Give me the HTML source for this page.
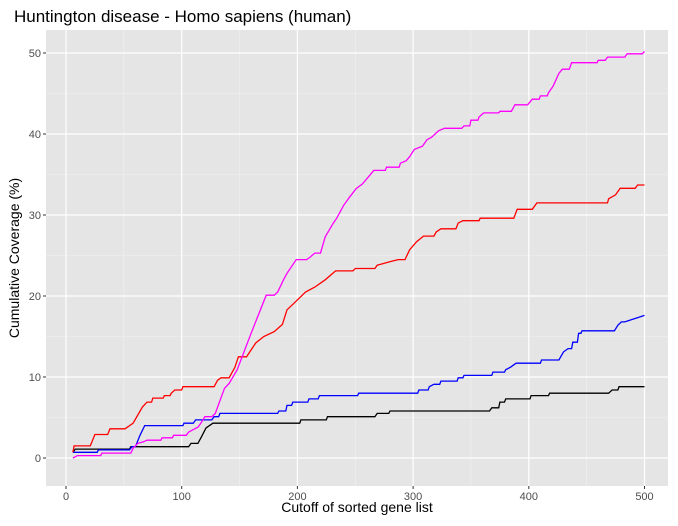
<!DOCTYPE html>
<html><head><meta charset="utf-8"><style>
body{margin:0;background:#fff;font-family:"Liberation Sans",sans-serif;}
svg text{font-family:"Liberation Sans",sans-serif;}
</style></head><body>
<svg id="chart" width="678" height="521">
<text x="14" y="22" font-size="17" fill="#000">Huntington disease - Homo sapiens (human)</text>
<rect x="46" y="30" width="622" height="456" fill="#e5e5e5"/>
<g id="grid"></g><g id="axes"></g><g id="series"></g>
<text x="357" y="512" font-size="14" text-anchor="middle" fill="#000">Cutoff of sorted gene list</text>
<text transform="translate(19,258) rotate(-90)" font-size="14" text-anchor="middle" fill="#000">Cumulative Coverage (%)</text>
</svg>
<script>
const xTicks=[0,100,200,300,400,500];
const yTicks=[0,10,20,30,40,50];
const blackX=[6,8,55,56,106,108,114,117,121,127,202,203,225,226,267,269,279,280,366,368,374,375,379,380,401,402,417,418,469,472,477,478,500];
const blackY=[0.7,1.1,1.1,1.4,1.4,1.8,1.8,2.6,3.7,4.3,4.3,4.7,4.7,5.1,5.1,5.5,5.5,5.8,5.8,6.2,6.2,6.9,6.9,7.3,7.3,7.7,7.7,8.0,8.0,8.4,8.4,8.8,8.8];
const blueX=[6,27,28,55,57,60,64,68,101,102,110,112,126,128,132,133,183,184,190,191,195,196,209,210,218,219,252,253,304,305,313,314,318,323,324,338,339,343,344,368,369,379,380,384,389,410,411,426,430,434,437,438,442,443,445,446,474,477,480,483,500];
const blueY=[0.7,0.7,1.0,1.0,1.4,1.4,2.8,4.0,4.0,4.3,4.3,4.7,4.7,5.1,5.1,5.5,5.5,5.8,5.8,6.5,6.5,6.9,6.9,7.3,7.3,7.7,7.7,8.0,8.0,8.4,8.4,8.8,9.1,9.1,9.5,9.5,9.9,9.9,10.2,10.2,10.6,10.6,10.9,11.2,11.7,11.7,12.1,12.1,13.1,13.5,13.5,14.3,14.3,15.4,15.4,15.7,15.7,16.4,16.8,16.8,17.6];
const redX=[6,7,21,25,36,38,51,55,58,66,70,74,75,84,85,90,91,94,100,101,128,131,134,141,146,149,156,164,171,180,187,191,197,207,215,224,233,248,250,267,269,279,287,293,297,303,309,318,320,324,337,339,343,357,358,387,390,403,407,468,469,475,479,492,494,500];
const redY=[0.7,1.5,1.5,2.9,2.9,3.6,3.6,4.0,4.3,6.3,6.9,6.9,7.4,7.4,7.7,7.7,8.0,8.4,8.4,8.8,8.8,9.6,9.9,9.9,11.2,12.5,12.5,14.2,15.0,15.6,16.5,18.3,19.1,20.5,21.1,22.0,23.1,23.1,23.4,23.4,23.8,24.2,24.5,24.5,25.7,26.7,27.4,27.4,27.9,28.3,28.3,29.0,29.3,29.3,29.6,29.6,30.7,30.7,31.5,31.5,32.0,32.5,33.3,33.3,33.7,33.7];
const magentaX=[6,10,30,31,56,58,62,67,70,82,83,92,93,104,106,110,114,117,120,126,129,137,141,148,160,173,180,183,188,191,199,208,211,215,220,224,231,234,240,245,251,256,262,266,276,277,288,289,294,297,301,308,312,316,319,322,327,342,344,349,350,356,357,361,374,375,385,388,399,403,409,410,416,417,421,426,429,435,437,459,460,466,468,483,485,498,500];
const magentaY=[0,0.3,0.3,0.6,0.6,1.2,1.8,2.0,2.2,2.2,2.5,2.5,2.8,2.8,3.2,3.5,3.8,4.4,5.1,5.1,5.5,8.6,9.2,10.9,15.4,20.1,20.1,20.5,22.0,22.8,24.5,24.5,24.8,25.3,25.3,27.3,29.0,29.6,31.2,32.2,33.3,33.8,34.8,35.5,35.5,35.9,35.9,36.4,36.7,37.2,38.1,38.5,39.3,39.6,40.0,40.4,40.7,40.7,41.0,41.0,41.7,41.7,42.1,42.6,42.6,42.8,42.8,43.6,43.6,44.3,44.3,44.7,44.7,45.1,45.9,47.5,48.0,48.0,48.8,48.8,49.1,49.1,49.5,49.5,49.9,49.9,50.2];
const NS="http://www.w3.org/2000/svg";
const L=46,R=668,T=30,B=486;
function sx(v){return 66+v*1.157;}
function sy(v){return 458-v*8.1;}
function mk(tag,attrs,parent){const e=document.createElementNS(NS,tag);for(const k in attrs)e.setAttribute(k,attrs[k]);parent.appendChild(e);return e;}
const grid=document.getElementById('grid'),axes=document.getElementById('axes'),ser=document.getElementById('series');
for(let i=0;i<xTicks.length-1;i++){const m=(xTicks[i]+xTicks[i+1])/2;const g=mk('line',{x1:sx(m),x2:sx(m),y1:T,y2:B,stroke:'#f2f2f2','stroke-width':0.6},grid);

}
for(let i=0;i<yTicks.length-1;i++){const m=(yTicks[i]+yTicks[i+1])/2;const g=mk('line',{x1:L,x2:R,y1:sy(m),y2:sy(m),stroke:'#f2f2f2','stroke-width':0.6},grid);

}
xTicks.forEach(v=>{const g=mk('line',{x1:sx(v),x2:sx(v),y1:T,y2:B,stroke:'#fff','stroke-width':1.2},grid);


const t=mk('line',{x1:sx(v),x2:sx(v),y1:B,y2:B+3,stroke:'#333','stroke-width':1},axes);


const l=mk('text',{x:sx(v),y:B+14,'font-size':11,'text-anchor':'middle',fill:'#4d4d4d'},axes);l.textContent=v;

});
yTicks.forEach(v=>{const g=mk('line',{x1:L,x2:R,y1:sy(v),y2:sy(v),stroke:'#fff','stroke-width':1.2},grid);


const t=mk('line',{x1:L-3,x2:L,y1:sy(v),y2:sy(v),stroke:'#333','stroke-width':1},axes);


const l=mk('text',{x:L-5,y:sy(v)+4,'font-size':11,'text-anchor':'end',fill:'#4d4d4d'},axes);l.textContent=v;

});
function draw(xs,ys,color,name){const pts=xs.map((x,i)=>sx(x).toFixed(1)+','+sy(ys[i]).toFixed(1)).join(' ');
const p=mk('polyline',{points:pts,fill:'none',stroke:color,'stroke-width':1.3},ser);

}
draw(blackX,blackY,'#000','series-black');
draw(blueX,blueY,'#0000ff','series-blue');
draw(redX,redY,'#ff0000','series-red');
draw(magentaX,magentaY,'#ff00ff','series-magenta');
</script>
</body></html>
